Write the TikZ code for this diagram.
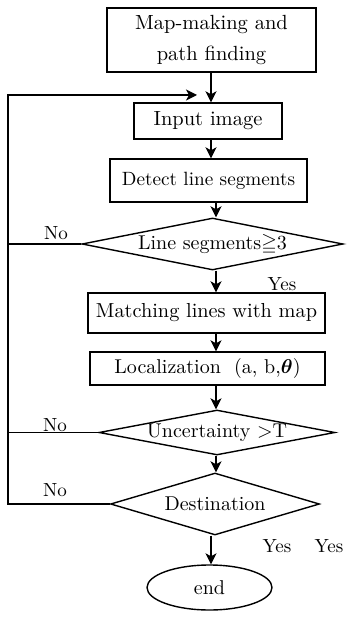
\documentclass[tikz,border=0pt]{standalone}
\usepackage{amssymb,amsmath,bm,graphicx}
\usetikzlibrary{shapes.geometric,arrows.meta}
% text set in the 10pt design size and enlarged, for heavier strokes
\newcommand{\bigtext}[2][2]{\scalebox{#1}{#2}}
\begin{document}
\begin{tikzpicture}[x=1pt,y=-1pt,
  every node/.style={font=\fontsize{10}{12}\selectfont},
  stepbox/.style={draw,line width=1.4pt,rectangle,inner sep=0pt},
  decision/.style={draw,line width=1.4pt,diamond,inner sep=0pt},
  terminal/.style={draw,line width=1.4pt,ellipse,inner sep=0pt},
  flow/.style={line width=1.4pt,-{Stealth[length=11pt,width=11pt,inset=3pt]}},
  loop/.style={line width=1.4pt},
  tag/.style={inner sep=0pt}]
\useasboundingbox (0,0) rectangle (355,617);

% process boxes
\node[stepbox,minimum width=209pt,minimum height=64pt] (map) at (211.5,40)
  {\bigtext[2.05]{\begin{tabular}{@{}c@{}}Map-making and\\[3pt]path finding\end{tabular}}};
\node[stepbox,minimum width=148pt,minimum height=36pt] (input) at (208,121) {\bigtext[2.05]{Input image}};
\node[stepbox,minimum width=197pt,minimum height=43pt] (detect) at (208.5,180.5) {\bigtext[1.92]{Detect line segments}};
\node[decision,minimum width=261pt,minimum height=52pt,
  label={center:\bigtext{Line segments$\geqq$3}}] (seg) at (212.5,244) {};
\node[stepbox,minimum width=237pt,minimum height=40pt] (match) at (206.5,313) {\bigtext[2.03]{Matching lines with map}};
\node[stepbox,minimum width=235pt,minimum height=33pt] (loc) at (207.5,368.5)
  {\bigtext{Localization~ (a, b,$\bm{\theta}$)}};
\node[decision,minimum width=236pt,minimum height=45pt,
  label={center:\bigtext{Uncertainty >T}}] (unc) at (217,432.5) {};
\node[decision,minimum width=209pt,minimum height=62pt,
  label={center:\bigtext{Destination}}] (dest) at (215,504) {};
\node[terminal,minimum width=125pt,minimum height=45pt] (end) at (209.5,587.5) {\bigtext{end}};

% return path
\coordinate (corner) at (8,95);
\coordinate (entry) at (197,95);

% main flow
\draw[flow] (map.south -| 211,0) -- (input.north -| 211,0);
\draw[flow] (input.south -| 211,0) -- (detect.north -| 211,0);
\draw[flow] (detect.south -| 216,0) -- (seg.north -| 216,0);
\draw[flow] (seg.south -| 216,0) -- (match.north -| 216,0);
\draw[flow] (match.south -| 216,0) -- (loc.north -| 216,0);
\draw[flow] (loc.south -| 216,0) -- (unc.north -| 216,0);
\draw[flow] (unc.south -| 216,0) -- (dest.north -| 216,0);
\draw[flow] (dest.south -| 211,0) -- (end.north -| 211,0);

% "No" branches back to the input
\draw[loop] (seg.west) -- (seg.west -| corner);
\draw[loop] (unc.west) -- (unc.west -| corner);
\draw[flow] (dest.west) -| (corner) -- (entry);

% branch labels
\node[tag] (no1) at (56,233) {\bigtext[1.9]{No}};
\node[tag] (no2) at (55,425) {\bigtext[1.9]{No}};
\node[tag] (no3) at (55,490) {\bigtext[1.9]{No}};
\node[tag] (yes1) at (282,284) {\bigtext[1.9]{Yes}};
\node[tag] (yes2) at (277,546) {\bigtext[1.9]{Yes}};
\node[tag] (yes3) at (329,546) {\bigtext[1.9]{Yes}};
\end{tikzpicture}
\end{document}
